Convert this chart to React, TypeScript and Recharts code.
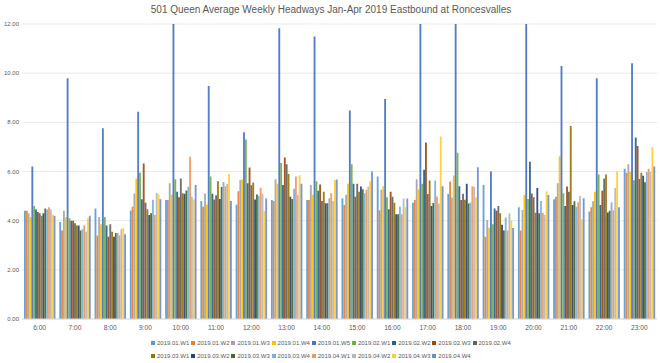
import React from 'react';
import { BarChart, Bar, XAxis, YAxis, CartesianGrid, Legend } from 'recharts';

const hours = ['6:00', '7:00', '8:00', '9:00', '10:00', '11:00', '12:00', '13:00', '14:00', '15:00', '16:00', '17:00', '18:00', '19:00', '20:00', '21:00', '22:00', '23:00'];

const seriesNames = ['2019.01.W1', '2019.01.W2', '2019.01.W3', '2019.01.W4', '2019.01.W5', '2019.02.W1', '2019.02.W2', '2019.02.W3', '2019.02.W4', '2019.03.W1', '2019.03.W2', '2019.03.W3', '2019.03.W4', '2019.04.W1', '2019.04.W2', '2019.04.W3', '2019.04.W4'];

const jan1 = [4.4, 3.95, 4.5, 4.41, 4.84, 4.8, 4.65, 4.84, 4.84, 4.91, 5.8, 4.73, 5.08, 5.45, 4.55, 4.87, 4.37, 6.11];
const jan2 = [4.4, 3.6, 3.4, 4.57, 4.84, 4.57, 5.2, 4.8, 4.84, 4.64, 4.42, 4.84, 5.59, 3.35, 3.6, 4.97, 4.55, 5.95];
const jan3 = [4.3, 4.4, 4.15, 5.11, 5.52, 5.11, 5.65, 5.68, 5.45, 5.05, 5.26, 5.68, 4.94, 4.03, 4.43, 5.52, 4.79, 6.3];
const jan4 = [4.15, 4.15, 3.85, 5.72, 5.05, 4.66, 5.67, 5.5, 5.05, 5.5, 5.4, 5.27, 5.84, 3.71, 5.04, 6.62, 5.18, 5.98];
const jan5 = [6.2, 9.79, 7.76, 8.43, 12, 9.48, 7.6, 11.83, 11.49, 8.48, 8.95, 12, 12, 6.0, 12, 10.29, 9.79, 10.4];
const feb1 = [4.6, 4.1, 4.15, 5.95, 5.68, 5.8, 7.3, 6.35, 5.6, 6.3, 4.95, 5.5, 6.76, 3.85, 4.88, 5.12, 5.88, 5.64];
const feb2 = [4.45, 4.0, 3.8, 4.87, 5.18, 5.1, 5.52, 5.45, 5.22, 5.5, 4.46, 6.07, 5.4, 4.5, 6.4, 4.6, 4.64, 7.38];
const feb3 = [4.35, 4.0, 3.35, 6.33, 4.95, 4.86, 6.16, 6.57, 5.47, 4.97, 5.18, 7.18, 4.84, 4.4, 5.11, 5.39, 5.22, 7.04];
const feb4 = [4.3, 3.9, 3.85, 4.73, 5.72, 5.03, 5.44, 6.3, 4.8, 5.5, 4.97, 5.08, 5.1, 4.6, 4.95, 5.18, 5.72, 5.7];
const mar1 = [4.2, 3.8, 3.55, 4.46, 5.12, 5.6, 5.55, 5.9, 5.18, 5.18, 4.73, 5.63, 4.85, 4.3, 4.32, 7.85, 5.88, 5.95];
const mar2 = [4.3, 3.8, 3.35, 4.23, 5.09, 4.88, 4.86, 4.97, 4.71, 5.39, 4.26, 4.6, 5.5, 3.83, 5.33, 4.64, 4.33, 5.83];
const mar3 = [4.5, 3.6, 3.5, 4.3, 5.23, 5.37, 5.06, 4.88, 4.71, 5.28, 4.26, 4.72, 4.7, 3.6, 4.3, 4.79, 4.4, 5.56];
const mar4 = [4.45, 3.65, 3.5, 4.85, 5.38, 5.57, 5.0, 5.3, 4.91, 5.12, 4.58, 5.63, 4.73, 4.13, 4.8, 4.57, 4.75, 5.98];
const apr1 = [4.55, 3.8, 3.4, 4.23, 6.6, 5.4, 5.34, 5.8, 5.12, 5.26, 4.26, 4.98, 5.4, 3.6, 4.32, 4.75, 4.42, 6.11];
const apr2 = [4.45, 3.55, 3.65, 5.13, 4.97, 5.5, 5.1, 5.05, 4.8, 5.39, 4.9, 4.7, 5.38, 4.3, 4.23, 5.0, 5.33, 5.98];
const apr3 = [4.25, 4.1, 3.7, 5.07, 4.86, 5.9, 4.39, 5.85, 5.64, 5.6, 4.55, 7.42, 4.94, 4.0, 5.2, 4.06, 6.0, 7.0];
const apr4 = [4.2, 4.2, 3.45, 4.87, 5.45, 4.8, 4.9, 5.5, 5.67, 6.0, 4.9, 5.4, 6.17, 3.7, 5.04, 4.91, 4.55, 6.2];

const yTicks = [0, 2, 4, 6, 8, 10, 12];

const seriesValues = [jan1, jan2, jan3, jan4, jan5, feb1, feb2, feb3, feb4, mar1, mar2, mar3, mar4, apr1, apr2, apr3, apr4];

const palette = ['#5B9BD5', '#ED7D31', '#A5A5A5', '#FFC000', '#4472C4', '#70AD47', '#255E91', '#9E480E', '#636363', '#997300', '#264478', '#43682B', '#7CAFDD', '#F1975A', '#B7B7B7', '#FFCD33', '#698ED0'];

const data = hours.map((h, i) => {
  const row: Record<string, any> = { hour: h };
  seriesValues.forEach((arr, j) => {
    row['s' + j] = arr[i];
  });
  return row;
});

const FONT = '"Liberation Sans", Arial, sans-serif';
const TEXT = '#595959';

const LegendContent = (props: any) => {
  const payload = props.payload || [];
  const rows = [payload.slice(0, 9), payload.slice(9)];
  return (
    <div style={{ paddingTop: 4, paddingLeft: 151, fontFamily: FONT, fontSize: 6, color: TEXT }}>
      {rows.map((row: any[], ri: number) => (
        <div key={ri} style={{ display: 'flex', height: 12.5, alignItems: 'center' }}>
          {row.map((p: any, i: number) => (
            <div key={i} style={{ width: 40.2, display: 'flex', alignItems: 'center', whiteSpace: 'nowrap', overflow: 'hidden' }}>
              <span style={{ display: 'inline-block', flex: '0 0 4px', width: 4, height: 4, background: p.color, marginRight: 2 }} />
              <span>{p.value}</span>
            </div>
          ))}
        </div>
      ))}
    </div>
  );
};

export default function App() {
  return (
    <div style={{ position: 'absolute', left: 0, top: 0, width: 660, height: 363, background: '#fff', fontFamily: FONT }}>
      <div style={{ position: 'absolute', left: 0, top: 4, width: 662, textAlign: 'center', fontSize: 10, color: TEXT }}>
        501 Queen Average Weekly Headways Jan-Apr 2019 Eastbound at Roncesvalles
      </div>
      <BarChart
        width={660}
        height={363}
        data={data}
        margin={{ top: 24, right: 3, left: 0, bottom: 3 }}
        barGap={0}
        barSize={1.85}
      >
        <CartesianGrid vertical={false} stroke="#e3e3e3" strokeWidth={0.8} />
        <XAxis
          dataKey="hour"
          height={14}
          tickLine={false}
          axisLine={{ stroke: '#d9d9d9' }}
          tickSize={5}
          tickMargin={1}
          tick={{ fontSize: 6.6, fill: TEXT, fontFamily: FONT }}
          interval={0}
        />
        <YAxis
          width={22}
          domain={[0, 12]}
          ticks={yTicks}
          allowDataOverflow
          axisLine={false}
          tickLine={false}
          tickSize={0}
          tickMargin={3}
          tick={{ fontSize: 6, fill: TEXT, fontFamily: FONT }}
          tickFormatter={(v: number) => v.toFixed(2)}
        />
        <Legend content={<LegendContent />} height={27} />
        {seriesNames.map((n, j) => (
          <Bar key={n} dataKey={'s' + j} name={n} fill={palette[j]} fillOpacity={0.92} isAnimationActive={false} />
        ))}
      </BarChart>
    </div>
  );
}
